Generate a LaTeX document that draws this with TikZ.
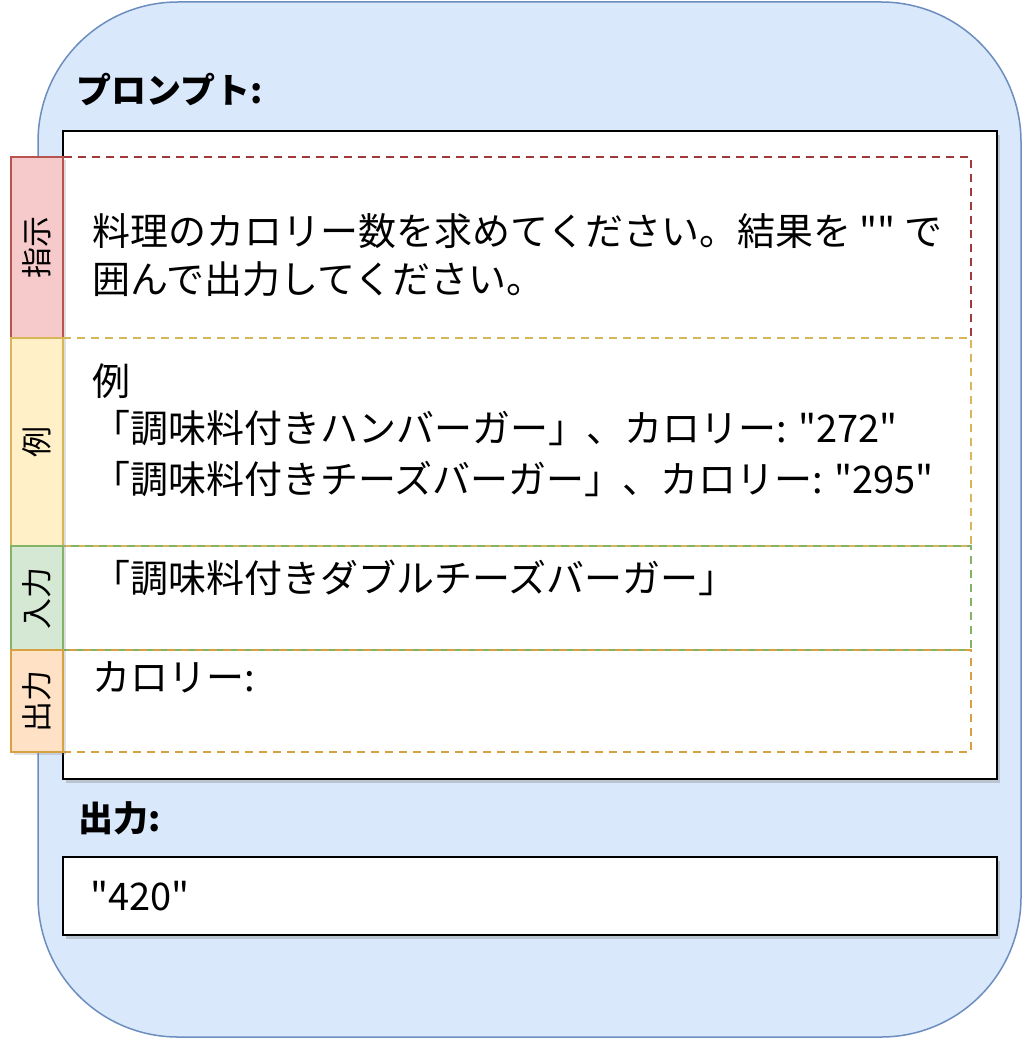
\documentclass[tikz,border=0pt]{standalone}
\usepackage{fontspec}
\setmainfont{Noto Sans CJK JP}[Ligatures=TeXOff]
\usepackage{tikz}
\usetikzlibrary{calc,fit,shadows}
\definecolor{panelfill}{HTML}{DAE8FC}
\definecolor{panelline}{HTML}{6C8EBF}
\definecolor{redfill}{HTML}{F6CACA}
\definecolor{redline}{HTML}{B85450}
\definecolor{reddash}{HTML}{9E3A3A}
\definecolor{yelfill}{HTML}{FFF0C8}
\definecolor{yelline}{HTML}{D6B656}
\definecolor{grnfill}{HTML}{D5E8D4}
\definecolor{grnline}{HTML}{82B366}
\definecolor{orgfill}{HTML}{FFE2C6}
\definecolor{orgline}{HTML}{D7A040}
\tikzstyle{panel}=[rectangle, draw=panelline, fill=panelfill, line width=1.5pt, rounded corners=140pt, inner sep=0cm]
\tikzstyle{card}=[rectangle, draw=black, fill=white, line width=1.8pt, inner sep=0cm, drop shadow={shadow xshift=3pt, shadow yshift=-4pt, opacity=0.35}]
\tikzstyle{sect}=[rectangle, dashed, dash pattern=on 8pt off 6pt, line width=1.4pt, inner sep=0cm]
\tikzstyle{tag}=[rectangle, line width=1.4pt, inner sep=0cm, drop shadow={shadow xshift=3pt, shadow yshift=-3pt, opacity=0.25}]
\tikzstyle{txt}=[inner sep=0cm, anchor=base west, font=\fontsize{38}{46}\selectfont]
\tikzstyle{head}=[inner sep=0cm, anchor=base west, font=\fontsize{35}{42}\selectfont\bfseries]
\tikzstyle{side}=[inner sep=0cm, rotate=90, font=\fontsize{31}{37}\selectfont]
\newcommand{\secl}{63}
\newcommand{\secr}{971}
\newcommand{\tagl}{11}
\newcommand{\txtx}{92}

\begin{document}
\begin{tikzpicture}[x=1pt, y=-1pt]
        \useasboundingbox (0,0) rectangle (1024,1040);
        \node[panel, fit={(38,2) (1021,1037)}] (P) {};
        \node[head] (PH) at (76,104) {プロンプト:};
        \node[card, fit={(\secl,131) (997,779)}] (Q) {};
        \node[head] (OH) at (78,831) {出力:};
        \node[card, fit={(\secl,857) (997,935)}] (O) {};
        \node[txt] (O1) at (\txtx-2,910) {"420"};
        \foreach \n/\t/\b/\c/\f/\s [count=\i] in {指示/157/338/reddash/redfill/redline, 例/338/546/yelline/yelfill/yelline, 入力/546/650/grnline/grnfill/grnline, 出力/650/752/orgline/orgfill/orgline}%
        {%
            \node[sect, draw=\c, fit={(\secl,\t) (\secr,\b)}] (S\i) {};%
            \node[tag, fill=\f, draw=\s, fit={(\tagl,\t) (\secl,\b)}] (T\i) {};%
            \node[side] (N\i) at (T\i.center) {\n};%
        }
        \node[txt] (A1) at (\txtx,246) {料理のカロリー数を求めてください。結果を "" で};
        \node[txt] (A2) at (\txtx,294) {囲んで出力してください。};
        \node[txt] (E0) at (\txtx,395) {例};
        \node[txt] (E1) at (\txtx,442) {「調味料付きハンバーガー」、カロリー: "272"};
        \node[txt] (E2) at (\txtx,493) {「調味料付きチーズバーガー」、カロリー: "295"};
        \node[txt] (I1) at (\txtx,592) {「調味料付きダブルチーズバーガー」};
        \node[txt] (R1) at (\txtx,691) {カロリー:};
       
       \end{tikzpicture}
\end{document}
